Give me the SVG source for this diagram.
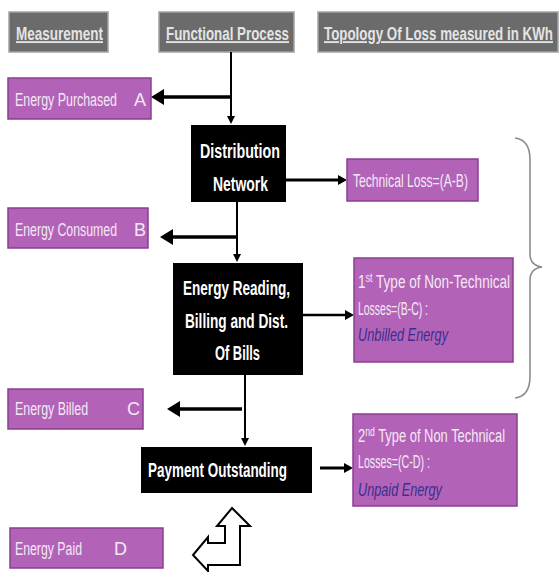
<svg xmlns="http://www.w3.org/2000/svg" width="559" height="572" viewBox="0 0 559 572">
<style>
.hdr rect{fill:#6b6b6b;stroke:#a3a3a3;stroke-width:1.5}
.hdr text{font-family:"Liberation Sans",Arial,sans-serif;font-size:19px;font-weight:bold;fill:#e4e4e4;text-decoration:underline}
.pur rect{fill:#b263b8;stroke:#8a3e91;stroke-width:1.5}
.pur text{font-family:"Liberation Sans",Arial,sans-serif;font-size:18px;fill:#f4e8f4}
.pur text.it{font-style:italic;fill:#3b2e8e}
.blk rect{fill:#000}
.blk text{font-family:"Liberation Sans",Arial,sans-serif;font-size:20.5px;font-weight:bold;fill:#fff}
.conn line{stroke:#000;fill:none}
.brace{fill:none;stroke:#8c8c8c;stroke-width:1.6}
.bent{fill:#fff;stroke:#000;stroke-width:2;stroke-linejoin:miter}
</style>
<defs>
<marker id="big" markerUnits="userSpaceOnUse" markerWidth="13" markerHeight="16" refX="9" refY="8" orient="auto">
<path d="M0,0 L13,8 L0,16 Z" fill="#000"/>
</marker>
<marker id="med" markerUnits="userSpaceOnUse" markerWidth="9" markerHeight="10" refX="6" refY="5" orient="auto">
<path d="M0,0 L9,5 L0,10 Z" fill="#000"/>
</marker>
<marker id="sml" markerUnits="userSpaceOnUse" markerWidth="8" markerHeight="8" refX="5" refY="4" orient="auto">
<path d="M0,0 L8,4 L0,8 Z" fill="#000"/>
</marker>
</defs>

<g id="hdr-measurement" class="hdr">
<rect x="9" y="12" width="99" height="40"/>
<text x="16" y="40" transform="matrix(0.7 0 0 1 4.8 0)" textLength="124.3" lengthAdjust="spacingAndGlyphs">Measurement</text>
</g>
<g id="hdr-functional" class="hdr">
<rect x="159" y="12" width="135" height="40"/>
<text x="166" y="40" transform="matrix(0.7 0 0 1 49.8 0)" textLength="175.7" lengthAdjust="spacingAndGlyphs">Functional Process</text>
</g>
<g id="hdr-topology" class="hdr">
<rect x="318" y="12" width="240" height="40"/>
<text x="324" y="40" transform="matrix(0.7 0 0 1 97.2 0)" textLength="327.1" lengthAdjust="spacingAndGlyphs">Topology Of Loss measured in KWh</text>
</g>

<g id="conn">
<g class="conn">
<line x1="231" y1="52" x2="231" y2="121" stroke-width="2" marker-end="url(#sml)"/>
<line x1="231" y1="97" x2="155" y2="97" stroke-width="3.5" marker-end="url(#big)"/>
<line x1="237" y1="202" x2="237" y2="259" stroke-width="2" marker-end="url(#sml)"/>
<line x1="237" y1="237" x2="164" y2="237" stroke-width="3.5" marker-end="url(#big)"/>
<line x1="286" y1="180" x2="344" y2="180" stroke-width="3" marker-end="url(#med)"/>
<line x1="303" y1="315" x2="351" y2="315" stroke-width="2.5" marker-end="url(#med)"/>
<line x1="245" y1="375" x2="245" y2="443" stroke-width="2" marker-end="url(#sml)"/>
<line x1="242" y1="409" x2="171" y2="409" stroke-width="3.5" marker-end="url(#big)"/>
<line x1="320" y1="468" x2="350" y2="468" stroke-width="3" marker-end="url(#med)"/>
</g>
</g>

<g id="energy-purchased" class="pur">
<rect x="8" y="78" width="143" height="41"/>
<text x="15" y="106" transform="matrix(0.68 0 0 1 4.8 0)" textLength="150" lengthAdjust="spacingAndGlyphs">Energy Purchased</text>
<text x="134" y="106">A</text>
</g>
<g id="energy-consumed" class="pur">
<rect x="8" y="208" width="140" height="40"/>
<text x="15" y="236" transform="matrix(0.68 0 0 1 4.8 0)" textLength="150" lengthAdjust="spacingAndGlyphs">Energy Consumed</text>
<text x="134" y="236">B</text>
</g>
<g id="energy-billed" class="pur">
<rect x="8" y="389" width="135" height="40"/>
<text x="15" y="415" transform="matrix(0.68 0 0 1 4.8 0)" textLength="107.4" lengthAdjust="spacingAndGlyphs">Energy Billed</text>
<text x="127" y="415">C</text>
</g>
<g id="energy-paid" class="pur">
<rect x="10" y="528" width="153" height="40"/>
<text x="15" y="555" transform="matrix(0.68 0 0 1 4.8 0)" textLength="98.5" lengthAdjust="spacingAndGlyphs">Energy Paid</text>
<text x="114" y="555">D</text>
</g>

<g id="distribution-network" class="blk">
<rect x="191" y="125" width="95" height="77"/>
<text x="200" y="158" transform="matrix(0.667 0 0 1 66.6 0)" textLength="119.9" lengthAdjust="spacingAndGlyphs">Distribution</text>
<text x="213" y="191" transform="matrix(0.667 0 0 1 70.93 0)" textLength="82.5" lengthAdjust="spacingAndGlyphs">Network</text>
</g>
<g id="energy-reading" class="blk">
<rect x="173" y="263" width="130" height="112"/>
<text x="183" y="295" transform="matrix(0.667 0 0 1 60.94 0)" textLength="160.4" lengthAdjust="spacingAndGlyphs">Energy Reading,</text>
<text x="185" y="328" transform="matrix(0.667 0 0 1 61.6 0)" textLength="154.4" lengthAdjust="spacingAndGlyphs">Billing and Dist.</text>
<text x="215" y="360" transform="matrix(0.667 0 0 1 71.6 0)" textLength="67.5" lengthAdjust="spacingAndGlyphs">Of Bills</text>
</g>
<g id="payment-outstanding" class="blk">
<rect x="141" y="447" width="171" height="46"/>
<text x="148" y="477" transform="matrix(0.667 0 0 1 49.28 0)" textLength="208.4" lengthAdjust="spacingAndGlyphs">Payment Outstanding</text>
</g>

<g id="technical-loss" class="pur">
<rect x="347" y="159" width="131" height="42"/>
<text x="353" y="187" transform="matrix(0.68 0 0 1 112.96 0)" textLength="169.1" lengthAdjust="spacingAndGlyphs">Technical Loss=(A-B)</text>
</g>
<g id="non-technical-1" class="pur">
<rect x="354" y="258" width="159" height="104"/>
<text x="358" y="288" transform="matrix(0.68 0 0 1 114.56 0)" textLength="223.5" lengthAdjust="spacingAndGlyphs">1<tspan font-size="12" dy="-6">st</tspan><tspan dy="6"> Type of Non-Technical</tspan></text>
<text x="358" y="315" transform="matrix(0.68 0 0 1 114.56 0)" textLength="102.9" lengthAdjust="spacingAndGlyphs">Losses=(B-C) :</text>
<text class="it" x="358" y="341" transform="matrix(0.68 0 0 1 114.56 0)" textLength="132.4" lengthAdjust="spacingAndGlyphs">Unbilled Energy</text>
</g>
<g id="non-technical-2" class="pur">
<rect x="353" y="414" width="164" height="92"/>
<text x="358" y="442" transform="matrix(0.68 0 0 1 114.56 0)" textLength="216.2" lengthAdjust="spacingAndGlyphs">2<tspan font-size="12" dy="-6">nd</tspan><tspan dy="6"> Type of Non Technical</tspan></text>
<text x="358" y="468" transform="matrix(0.68 0 0 1 114.56 0)" textLength="105.9" lengthAdjust="spacingAndGlyphs">Losses=(C-D) :</text>
<text class="it" x="358" y="496" transform="matrix(0.68 0 0 1 114.56 0)" textLength="123.5" lengthAdjust="spacingAndGlyphs">Unpaid Energy</text>
</g>

<path id="brace" class="brace" d="M515,138 C524,139 530,146 530,160 L530,254 C530,262 535,266 542,267 C535,268 530,272 530,280 L530,376 C530,390 524,397 515,398"/>

<polygon id="bent-arrow" class="bent" points="232,508 250,526 240,526 240,565 208,565 208,571 193,555 208,537 208,543 225,543 225,526 217,526"/>
</svg>
